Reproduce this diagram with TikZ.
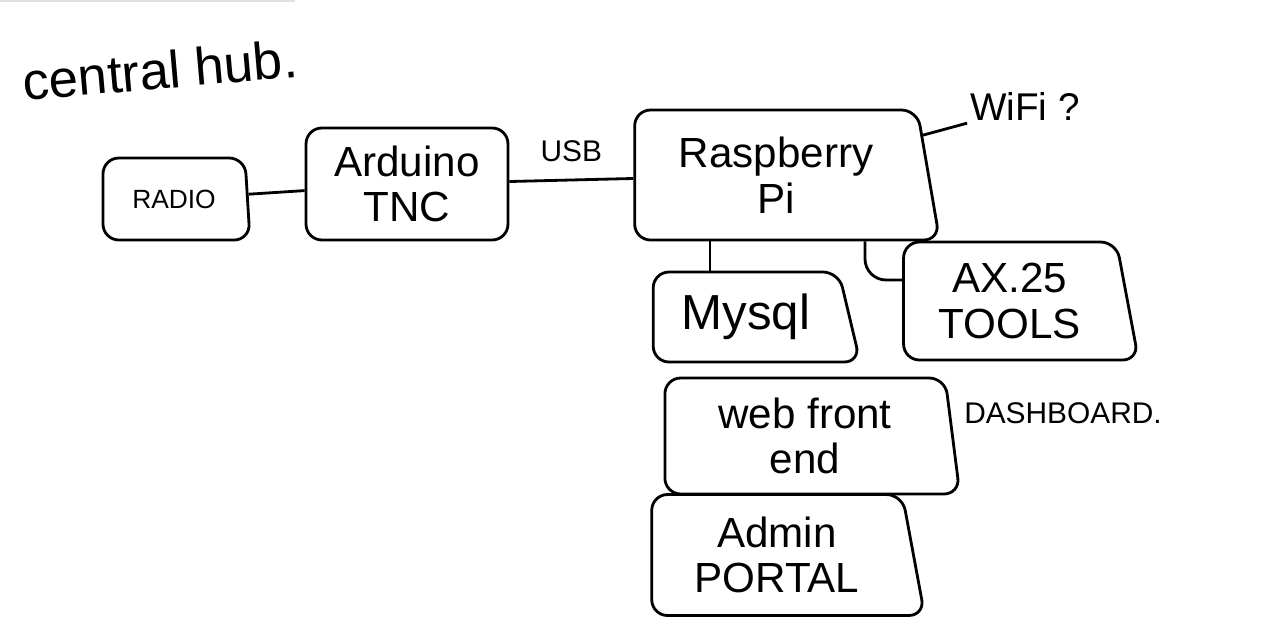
\documentclass[tikz,border=0pt]{standalone}
\usepackage{fontspec}
\setmainfont{Liberation Sans}
\usetikzlibrary{shapes.geometric}
\newcommand\boxfont{\fontsize{24}{26}\selectfont}
\begin{document}
\begin{tikzpicture}[x=0.02cm, y=-0.02cm, line width=1.6pt,
  box/.style={draw, trapezium, trapezium left angle=90, trapezium right angle=#1,
    trapezium stretches body, rounded corners=9pt, align=center, font=\boxfont, inner sep=2pt},
  box/.default=90,
  note/.style={inner sep=1pt}]
\useasboundingbox (0,0) rectangle (1275,643);
\draw[black!12, line width=2pt] (0,0) -- (295,0);
\node[note, font=\fontsize{30}{32}\selectfont, rotate=5] (title) at (160,70) {central hub.};
\node[box=79, minimum width=2.94cm, minimum height=1.64cm, font=\fontsize{15}{17}\selectfont] (radio) at (174,199) {RADIO};
\node[box, minimum width=4.04cm, minimum height=2.24cm] (tnc) at (407,184) {Arduino\\TNC};
\node[box=75, minimum width=6.1cm, minimum height=2.6cm] (rpi) at (776,175) {Raspberry\\Pi};
\node[box=68, minimum width=4.14cm, minimum height=1.8cm, font=\fontsize{28}{30}\selectfont] (mysql) at (746,317) {Mysql};
\node[box=75, minimum width=4.7cm, minimum height=2.36cm] (ax25) at (1010,301) {AX.25\\TOOLS};
\node[box=80, minimum width=5.9cm, minimum height=2.32cm] (web) at (805,436) {web front\\end};
\node[box=75, minimum width=5.46cm, minimum height=2.42cm] (admin) at (777,555) {Admin\\PORTAL};
\node[note, font=\fontsize{22}{24}\selectfont] (wifi) at (1025,106) {WiFi ?};
\node[note, font=\fontsize{17}{19}\selectfont] (dash) at (1063,413) {DASHBOARD.};
% links
\draw (radio) -- (tnc);
\draw (tnc) -- node[above=6pt, font=\fontsize{17}{19}\selectfont] {USB} (rpi);
\draw (rpi) -- (wifi.south west);
\draw (rpi.south -| 710,0) -- (mysql.north -| 710,0);
\draw[rounded corners=12pt] (rpi.south -| 865,0) |- (ax25.west |- 0,280);
\end{tikzpicture}
\end{document}
